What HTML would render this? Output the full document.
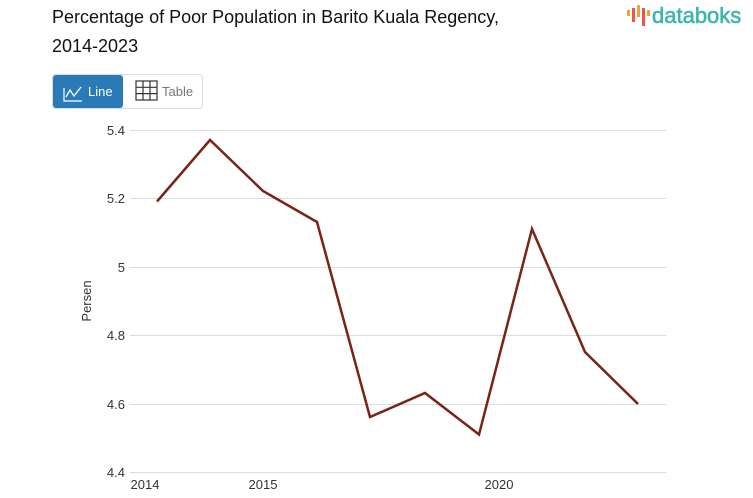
<!DOCTYPE html>
<html><head><meta charset="utf-8"><style>
body{margin:0;width:753px;height:498px;background:#fff;font-family:"Liberation Sans",sans-serif;overflow:hidden;position:relative}
.t{position:absolute;left:52px;top:3px;font-size:18px;line-height:29px;color:#111}
</style></head><body>
<div class="t">Percentage of Poor Population in Barito Kuala Regency,<br>2014-2023</div>
<svg width="753" height="498" style="position:absolute;left:0;top:0">
<g fill="#e8574a"><rect x="627" y="10" width="3" height="6" fill="#f0a23a"/><rect x="632" y="8" width="3" height="14"/><rect x="637" y="5" width="3" height="12" fill="#f0a23a"/><rect x="642" y="8" width="3" height="18"/><rect x="647" y="10" width="3" height="6" fill="#f0a23a"/></g>
<text x="652" y="23" font-size="22" fill="#3fb5ad" stroke="#3fb5ad" stroke-width="0.6" font-family="Liberation Sans,sans-serif">databoks</text>
<rect x="52.5" y="74.5" width="150" height="34" rx="3" fill="#fff" stroke="#ddd"/>
<rect x="53" y="75" width="70" height="33" rx="3" fill="#2a7ab8"/>
<polyline points="64,88 64,101 82,101" fill="none" stroke="#fff" stroke-width="1.2"/>
<polyline points="66,97 70,90 74,96 81,87" fill="none" stroke="#fff" stroke-width="1.3"/>
<text x="88" y="96" font-size="13" fill="#fff">Line</text>
<g stroke="#333" stroke-width="1.2" fill="none"><rect x="136" y="81" width="21" height="19"/><line x1="143" y1="81" x2="143" y2="100"/><line x1="150" y1="81" x2="150" y2="100"/><line x1="136" y1="87.3" x2="157" y2="87.3"/><line x1="136" y1="93.6" x2="157" y2="93.6"/></g>
<text x="162" y="96" font-size="13" fill="#777">Table</text>
<g stroke="#ddd" stroke-width="1">
<line x1="130" y1="130.5" x2="666" y2="130.5"/><line x1="130" y1="198.5" x2="666" y2="198.5"/><line x1="130" y1="267.5" x2="666" y2="267.5"/><line x1="130" y1="335.5" x2="666" y2="335.5"/><line x1="130" y1="404.5" x2="666" y2="404.5"/><line x1="130" y1="472.5" x2="666" y2="472.5"/>
</g>
<g font-size="13" fill="#333" text-anchor="end">
<text x="125" y="135">5.4</text><text x="125" y="203">5.2</text><text x="125" y="272">5</text><text x="125" y="340">4.8</text><text x="125" y="409">4.6</text><text x="125" y="477">4.4</text>
</g>
<text transform="translate(91,301) rotate(-90)" font-size="13" fill="#333" text-anchor="middle">Persen</text>
<g font-size="13" fill="#333" text-anchor="middle"><text x="145" y="489">2014</text><text x="263" y="489">2015</text><text x="499" y="489">2020</text></g>
<polyline points="157,201.5 210,140 263,191 317,222 370,417 425,393 479,434.5 532,229 585,352 638,404" fill="none" stroke="#7b2314" stroke-width="2.5" stroke-linejoin="miter"/>
</svg>
</body></html>
